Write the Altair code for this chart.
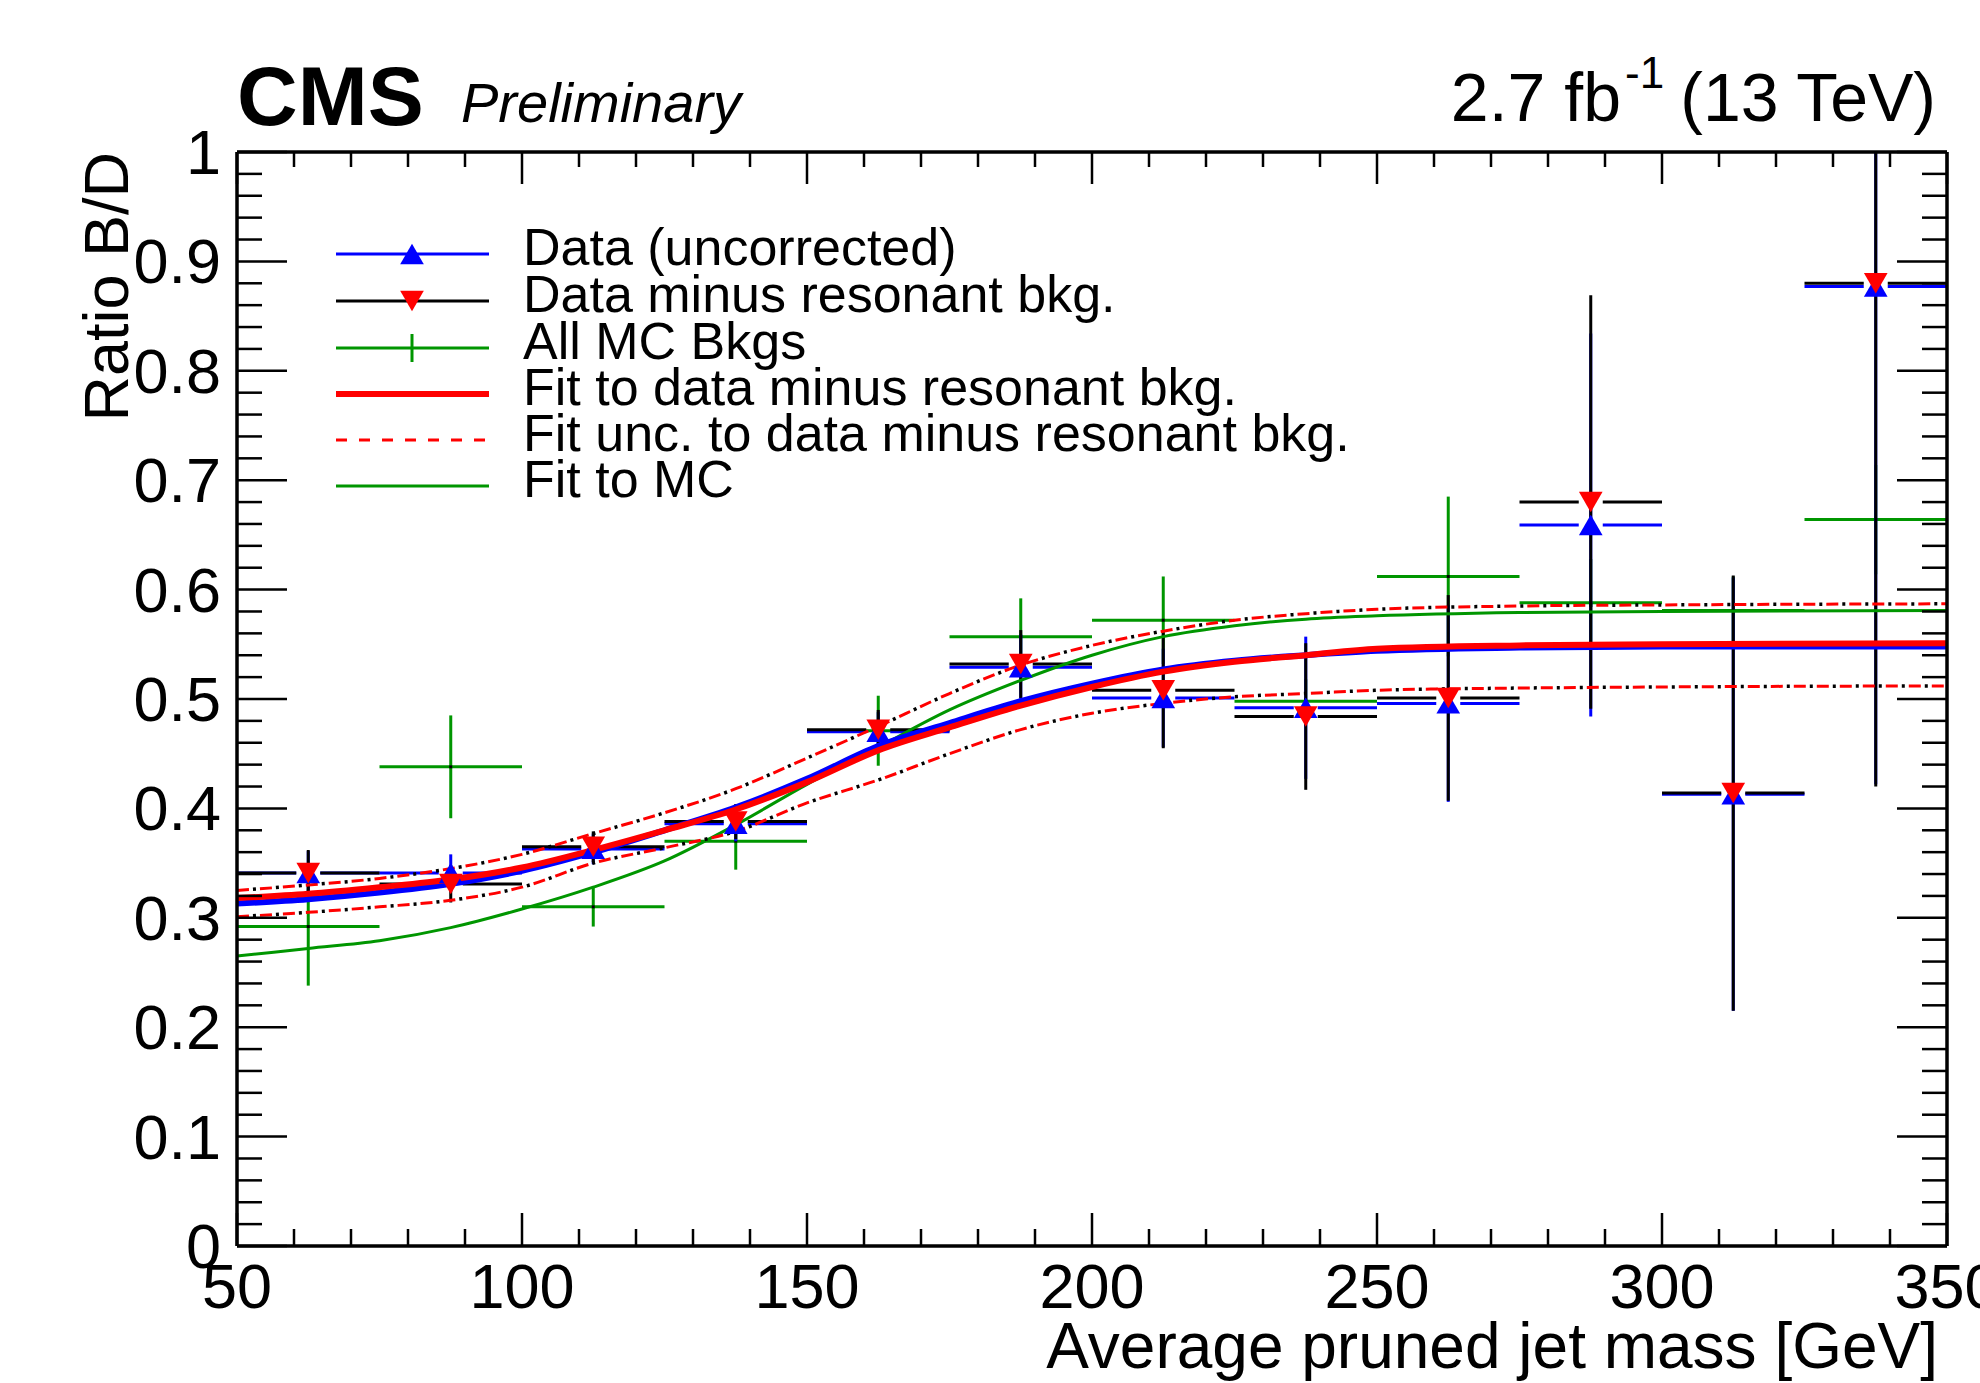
import altair as alt
import pandas as pd
import numpy as np

# ---------------- data ----------------
bin_lo = [50, 75, 100, 125, 150, 175, 200, 225, 250, 275, 300, 325]
bin_hi = [75, 100, 125, 150, 175, 200, 225, 250, 275, 300, 325, 350]
bin_center = [62.5, 87.5, 112.5, 137.5, 162.5, 187.5, 212.5, 237.5, 262.5, 287.5, 312.5, 337.5]

# Data minus resonant bkg. (red down triangles, black bars)
sub_val = [0.341, 0.331, 0.365, 0.388, 0.472, 0.532, 0.508, 0.484, 0.501, 0.680, 0.414, 0.880]
sub_err = [0.021, 0.017, 0.014, 0.016, 0.018, 0.031, 0.053, 0.067, 0.094, 0.189, 0.199, 0.460]

# Data (uncorrected) (blue up triangles)
raw_val = [0.341, 0.341, 0.363, 0.386, 0.470, 0.529, 0.501, 0.492, 0.496, 0.659, 0.413, 0.877]
raw_err = [0.020, 0.017, 0.014, 0.016, 0.018, 0.030, 0.045, 0.065, 0.090, 0.175, 0.198, 0.455]

# All MC Bkgs (green crosses)
mc_val = [0.292, 0.438, 0.310, 0.370, 0.471, 0.557, 0.572, 0.498, 0.612, 0.588, 0.581, 0.664]
mc_err = [0.054, 0.047, 0.018, 0.026, 0.032, 0.035, 0.040, 0.020, 0.073, 0.040, 0.031, 0.050]

# fit curves, read along the mass axis
fit_mass = [50, 62.5, 75, 87.5, 100, 112.5, 125, 137.5, 150, 162.5, 175, 187.5,
            200, 212.5, 225, 237.5, 250, 275, 300, 350]
fit_sub = [0.318, 0.322, 0.328, 0.335, 0.346, 0.362, 0.380, 0.399, 0.424, 0.453, 0.474, 0.494,
           0.511, 0.525, 0.534, 0.540, 0.546, 0.549, 0.550, 0.551]
fit_raw = [0.313, 0.317, 0.323, 0.331, 0.343, 0.360, 0.380, 0.401, 0.427, 0.457, 0.478, 0.498,
           0.514, 0.527, 0.535, 0.540, 0.544, 0.547, 0.548, 0.548]
fit_mc = [0.265, 0.272, 0.279, 0.291, 0.308, 0.328, 0.352, 0.385, 0.422, 0.456, 0.490, 0.517,
          0.540, 0.557, 0.567, 0.573, 0.576, 0.579, 0.580, 0.581]
fit_up = [0.325, 0.330, 0.336, 0.345, 0.358, 0.377, 0.396, 0.418, 0.446, 0.475, 0.505, 0.531,
          0.549, 0.562, 0.572, 0.578, 0.582, 0.585, 0.586, 0.587]
fit_down = [0.301, 0.305, 0.310, 0.316, 0.328, 0.350, 0.364, 0.379, 0.405, 0.426, 0.450, 0.472,
            0.487, 0.496, 0.502, 0.505, 0.508, 0.510, 0.511, 0.512]

x_major = [50, 100, 150, 200, 250, 300, 350]
x_minor = [v for v in range(50, 351, 10) if v % 50 != 0]
y_major = [0, 0.1, 0.2, 0.3, 0.4, 0.5, 0.6, 0.7, 0.8, 0.9, 1]
y_minor = [round(v, 2) for v in np.arange(0.02, 1.0, 0.02) if round(v * 50) % 5 != 0]

x_title = "Average pruned jet mass [GeV]"
y_title = "Ratio B/D"
legend_labels = ["Data (uncorrected)", "Data minus resonant bkg.", "All MC Bkgs",
                 "Fit to data minus resonant bkg.", "Fit unc. to data minus resonant bkg.",
                 "Fit to MC"]

# ---------------- styling ----------------
W, H = 1710, 1094
FONT = "Liberation Sans"
BLUE, RED, GREEN, BLACK = "#0000ff", "#ff0000", "#009600", "#000000"
GAP = 12 * 300 / W  # half marker width in GeV, for the error-bar gap

df = pd.DataFrame(dict(lo=bin_lo, hi=bin_hi, c=bin_center,
                       sub=sub_val, sub_err=sub_err, raw=raw_val, raw_err=raw_err,
                       mc=mc_val, mc_err=mc_err))
df["gl"] = df["c"] - GAP
df["gr"] = df["c"] + GAP
for k in ["sub", "raw", "mc"]:
    df[k + "_lo"] = df[k] - df[k + "_err"]
    df[k + "_hi"] = df[k] + df[k + "_err"]

fits = pd.DataFrame(dict(m=fit_mass, sub=fit_sub, raw=fit_raw, mc=fit_mc, up=fit_up, down=fit_down))

xs = alt.Scale(domain=[50, 350], nice=False, zero=False)
ys = alt.Scale(domain=[0, 1], nice=False, zero=False)


def X(f):
    return alt.X(f, type="quantitative", scale=xs, axis=None)


def Y(f):
    return alt.Y(f, type="quantitative", scale=ys, axis=None)


base = alt.Chart(df)
layers = []

# MC crosses
layers.append(base.mark_rule(color=GREEN, strokeWidth=3, clip=True).encode(
    x=X("lo"), x2="hi", y=Y("mc")))
layers.append(base.mark_rule(color=GREEN, strokeWidth=3, clip=True).encode(
    x=X("c"), y=Y("mc_lo"), y2="mc_hi"))
layers.append(base.mark_square(color=BLACK, size=9, opacity=1).encode(x=X("c"), y=Y("mc")))

# uncorrected data bars
layers.append(base.mark_rule(color=BLUE, strokeWidth=3, clip=True).encode(
    x=X("c"), y=Y("raw_lo"), y2="raw_hi"))
layers.append(base.mark_rule(color=BLUE, strokeWidth=3, clip=True).encode(
    x=X("lo"), x2="gl", y=Y("raw")))
layers.append(base.mark_rule(color=BLUE, strokeWidth=3, clip=True).encode(
    x=X("gr"), x2="hi", y=Y("raw")))

# data minus resonant bars
layers.append(base.mark_rule(color=BLACK, strokeWidth=3, clip=True).encode(
    x=X("c"), y=Y("sub_lo"), y2="sub_hi"))
layers.append(base.mark_rule(color=BLACK, strokeWidth=3, clip=True).encode(
    x=X("lo"), x2="gl", y=Y("sub")))
layers.append(base.mark_rule(color=BLACK, strokeWidth=3, clip=True).encode(
    x=X("gr"), x2="hi", y=Y("sub")))

# fits
fb = alt.Chart(fits)
layers.append(fb.mark_line(color=GREEN, strokeWidth=3, interpolate="monotone").encode(
    x=X("m"), y=Y("mc")))
for col in ["up", "down"]:
    layers.append(fb.mark_line(color=BLACK, strokeWidth=3.5, strokeDash=[3, 20],
                               strokeDashOffset=7, interpolate="monotone").encode(
        x=X("m"), y=Y(col)))
    layers.append(fb.mark_line(color=RED, strokeWidth=3, strokeDash=[12, 11],
                               interpolate="monotone").encode(x=X("m"), y=Y(col)))
layers.append(fb.mark_line(color=BLUE, strokeWidth=6, interpolate="monotone").encode(
    x=X("m"), y=Y("raw")))
layers.append(fb.mark_line(color=RED, strokeWidth=6, interpolate="monotone").encode(
    x=X("m"), y=Y("sub")))

# markers
layers.append(base.mark_point(shape="triangle-up", filled=True, color=BLUE, size=560,
                              opacity=1).encode(x=X("c"), y=Y("raw")))
layers.append(base.mark_point(shape="triangle-down", filled=True, color=RED, size=560,
                              opacity=1).encode(x=X("c"), y=Y("sub")))

# frame
one = pd.DataFrame({"k": [0]})
FR = dict(color=BLACK, strokeWidth=3.5)
layers += [
    alt.Chart(one).mark_rule(**FR).encode(x=alt.value(0), x2=alt.value(W), y=alt.value(H)),
    alt.Chart(one).mark_rule(**FR).encode(x=alt.value(0), x2=alt.value(W), y=alt.value(0)),
    alt.Chart(one).mark_rule(**FR).encode(x=alt.value(0), y=alt.value(0), y2=alt.value(H)),
    alt.Chart(one).mark_rule(**FR).encode(x=alt.value(W), y=alt.value(0), y2=alt.value(H)),
]

# inward ticks on all four sides
txM = alt.Chart(pd.DataFrame({"t": x_major, "lab": [f"{v:g}" for v in x_major]}))
txm = alt.Chart(pd.DataFrame({"t": x_minor}))
tyM = alt.Chart(pd.DataFrame({"t": y_major, "lab": [f"{v:g}" for v in y_major]}))
tym = alt.Chart(pd.DataFrame({"t": y_minor}))
TK = dict(color=BLACK, strokeWidth=2.5)
layers += [
    txM.mark_rule(**TK).encode(x=X("t"), y=alt.value(H), y2=alt.value(H - 33)),
    txm.mark_rule(**TK).encode(x=X("t"), y=alt.value(H), y2=alt.value(H - 17)),
    txM.mark_rule(**TK).encode(x=X("t"), y=alt.value(0), y2=alt.value(32)),
    txm.mark_rule(**TK).encode(x=X("t"), y=alt.value(0), y2=alt.value(15)),
    tyM.mark_rule(**TK).encode(y=Y("t"), x=alt.value(0), x2=alt.value(50)),
    tym.mark_rule(**TK).encode(y=Y("t"), x=alt.value(0), x2=alt.value(25)),
    tyM.mark_rule(**TK).encode(y=Y("t"), x=alt.value(W), x2=alt.value(W - 50)),
    tym.mark_rule(**TK).encode(y=Y("t"), x=alt.value(W), x2=alt.value(W - 25)),
]

# tick labels
layers.append(txM.mark_text(font=FONT, fontSize=63, color=BLACK, align="center",
                            baseline="alphabetic").encode(
    x=X("t"), y=alt.value(H + 62), text="lab:N"))
layers.append(tyM.mark_text(font=FONT, fontSize=63, color=BLACK, align="right",
                            baseline="alphabetic", dy=22).encode(
    y=Y("t"), x=alt.value(-16), text="lab:N"))


# header / axis-title texts
def txt(s, x, y, size, align="left", weight="normal", style="normal", angle=0):
    kw = dict(font=FONT, fontSize=size, fontWeight=weight, fontStyle=style, color=BLACK,
              align=align, baseline="alphabetic")
    if angle:
        kw["angle"] = angle
    return alt.Chart(pd.DataFrame({"s": [s]})).mark_text(**kw).encode(
        x=alt.value(x), y=alt.value(y), text="s:N")


layers += [
    txt(x_title, 1701, H + 122, 64, align="right"),
    txt(y_title, -109, 0, 63, align="right", angle=270),
    txt("CMS", 0, -27, 84, weight="bold"),
    txt("Preliminary", 224, -30, 56, style="italic"),
    txt("2.7 fb", 1384, -31, 68, align="right"),
    txt("-1", 1388, -64, 44),
    txt("(13 TeV)", 1699, -31, 68, align="right"),
]

# legend
rows = [102, 149, 196, 242, 288, 334]
LX0, LX1, LMX, LTX = 99, 252, 175, 286
leg_line = [(BLUE, 3, None), (BLACK, 3, None), (GREEN, 3, None), (RED, 6, None),
            (RED, 3, [11, 12]), (GREEN, 3, None)]
for i, (col, sw, dash) in enumerate(leg_line):
    kw = dict(color=col, strokeWidth=sw)
    if dash:
        kw["strokeDash"] = dash
    layers.append(alt.Chart(one).mark_rule(**kw).encode(
        x=alt.value(LX0), x2=alt.value(LX1), y=alt.value(rows[i])))
layers.append(alt.Chart(one).mark_point(shape="triangle-up", filled=True, color=BLUE, size=560,
                                        opacity=1).encode(x=alt.value(LMX), y=alt.value(rows[0])))
layers.append(alt.Chart(one).mark_point(shape="triangle-down", filled=True, color=RED, size=560,
                                        opacity=1).encode(x=alt.value(LMX), y=alt.value(rows[1])))
layers.append(alt.Chart(one).mark_rule(color=GREEN, strokeWidth=3).encode(
    x=alt.value(LMX), y=alt.value(rows[2] - 14), y2=alt.value(rows[2] + 14)))
for i, lab in enumerate(legend_labels):
    layers.append(alt.Chart(pd.DataFrame({"label": [lab]})).mark_text(
        font=FONT, fontSize=52, color=BLACK, align="left", baseline="alphabetic").encode(
        x=alt.value(LTX), y=alt.value(rows[i] + 11), text="label:N"))

chart = alt.layer(*layers).properties(
    width=W, height=H,
    padding={"left": 237, "top": 152, "right": 33, "bottom": 137},
    autosize=alt.AutoSizeParams(type="none"),
).configure(background="white").configure_view(stroke=None)

chart.save("out.html", embed_options={"renderer": "svg", "actions": False})
